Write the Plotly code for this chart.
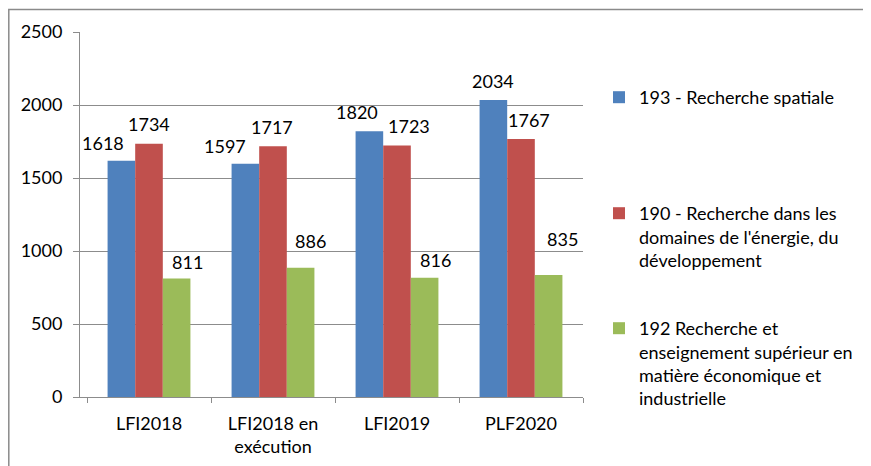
import plotly.graph_objects as go

# ---- data ----
categories = ["LFI2018", "LFI2018 en<br>exécution", "LFI2019", "PLF2020"]
name_spatiale = "193 - Recherche spatiale"
name_energie = "190 - Recherche dans les<br>domaines de l'énergie, du<br>développement"
name_economique = "192 Recherche et<br>enseignement supérieur en<br>matière économique et<br>industrielle"
spatiale = [1618, 1597, 1820, 2034]
energie = [1734, 1717, 1723, 1767]
economique = [811, 886, 816, 835]
y_ticks = [0, 500, 1000, 1500, 2000, 2500]

# ---- style ----
FONT = "Lato, 'Open Sans', sans-serif"
FS = 18
colors = ["#4F81BD", "#C0504D", "#9BBB59"]
GRID = "#8c8c8c"
OFF = 8  # default body margin of the html page
W, H = 871 - OFF, 466 - OFF
ML, MR, MT, MB = 80 - OFF, 288, 32 - OFF, 69
PW = W - ML - MR
PH = H - MT - MB
BAR_PX = 28  # bar width in px (for label placement)

# manual label nudges (px) relative to each bar: (dx, dy-above-top)
label_dx = [[-18, -20, -12, 0], [0, -1, 12, 8], [10, 9, 10, 13]]
label_dy = [[19, 19, 20, 20.5], [21, 20, 20, 20.5], [17.6, 27.6, 18.4, 36.6]]

series = [
    (name_spatiale, spatiale, "legend"),
    (name_energie, energie, "legend2"),
    (name_economique, economique, "legend3"),
]

fig = go.Figure()
for i, (nm, vals, lg) in enumerate(series):
    fig.add_trace(go.Bar(
        x=categories, y=vals, name=nm, marker=dict(color=colors[i], line=dict(width=0)),
        legend=lg, hoverinfo="y",
    ))

annotations = []
offsets = [-BAR_PX, 0, BAR_PX]
for i, (nm, vals, lg) in enumerate(series):
    for j, v in enumerate(vals):
        annotations.append(dict(
            x=categories[j], y=v, xref="x", yref="y", text=str(v), showarrow=False,
            xanchor="center", yanchor="middle",
            xshift=offsets[i] + label_dx[i][j], yshift=label_dy[i][j] - 1,
            font=dict(family=FONT, size=FS, color="#000000"),
        ))


def px_x(p):
    # page pixel -> paper coordinate
    return (p - OFF - ML) / PW


def px_y(p):
    return (H - MB - (p - OFF)) / PH


leg_common = dict(
    xref="paper", yref="paper", x=px_x(599), xanchor="left", yanchor="top",
    valign="top", bgcolor="rgba(0,0,0,0)", borderwidth=0,
    font=dict(family=FONT, size=FS, color="#000000"),
)

fig.update_layout(
    width=W, height=H, autosize=False,
    margin=dict(l=ML, r=MR, t=MT, b=MB, pad=0, autoexpand=False),
    paper_bgcolor="white", plot_bgcolor="white",
    font=dict(family=FONT, size=FS, color="#000000"),
    barmode="group", bargap=0.332, bargroupgap=0,
    showlegend=True,
    legend=dict(**leg_common, y=px_y(79)),
    legend2=dict(**leg_common, y=px_y(195)),
    legend3=dict(**leg_common, y=px_y(310)),
    xaxis=dict(
        type="category", showline=True, linecolor=GRID, linewidth=1,
        ticks="outside", tickson="boundaries", ticklen=5, tickcolor=GRID,
        showgrid=False, ticklabelstandoff=10, automargin=False,
        tickfont=dict(family=FONT, size=FS, color="#000000"),
    ),
    yaxis=dict(
        range=[0, 2500], tickvals=y_ticks, showgrid=True, gridcolor=GRID, gridwidth=1,
        showline=True, linecolor=GRID, linewidth=1, ticks="outside", ticklen=6,
        tickcolor=GRID, zeroline=False, ticklabelstandoff=7, automargin=False,
        tickfont=dict(family=FONT, size=FS, color="#000000"),
    ),
    annotations=annotations,
    shapes=[dict(
        type="path", xref="paper", yref="paper",
        path=f"M {px_x(8.8)} {px_y(480)} L {px_x(8.8)} {px_y(9.5)} L {px_x(880)} {px_y(9.5)}",
        line=dict(color="#8a8a8a", width=1.5),
    )],
)

fig.write_html("out.html")
